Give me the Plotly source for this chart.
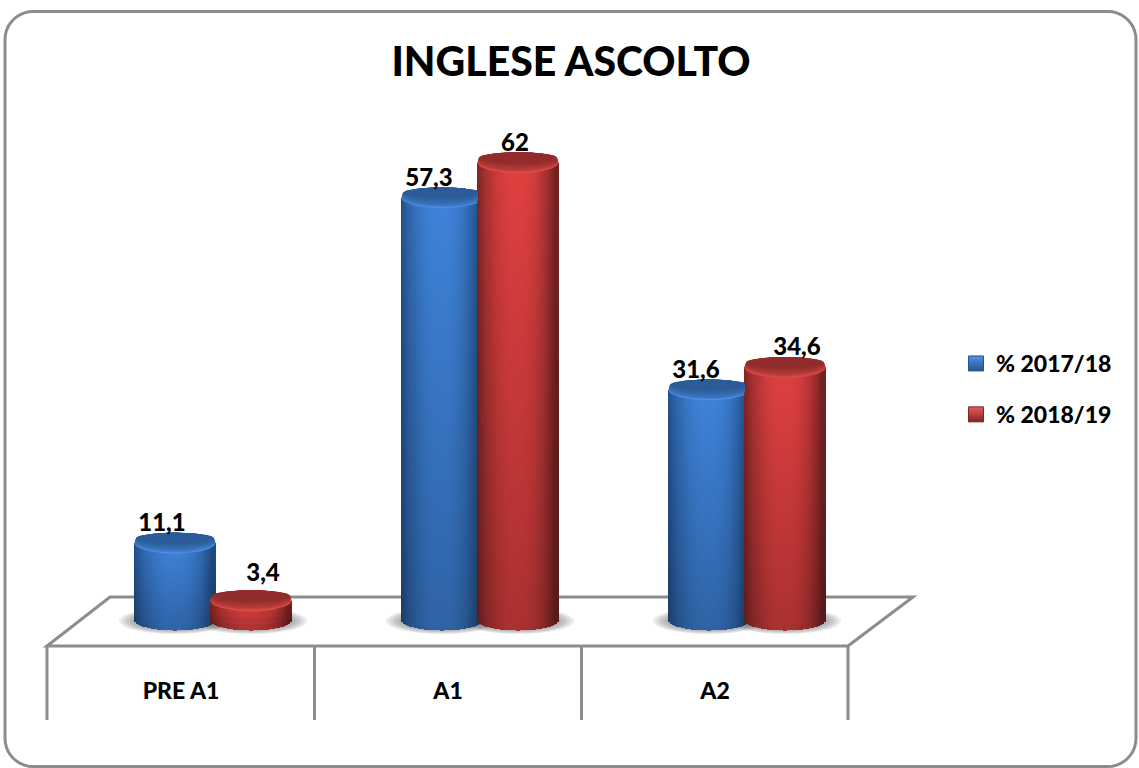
import math
import plotly.graph_objects as go

# ---- data ----
categories = ["PRE A1", "A1", "A2"]
series_names = ["% 2017/18", "% 2018/19"]
values_1718 = [11.1, 57.3, 31.6]
values_1819 = [3.4, 62, 34.6]
title_text = "INGLESE ASCOLTO"

# ---- layout constants ----
W, H = 1139, 768
FONT = "Lato"
WEIGHT = 900
PLOT_BOTTOM = 646
PX_PER_UNIT = 7.475
ZERO_PX = 626
CAT_X0, CAT_STEP = 181, 267
RX, RY = 40.5, 10.5
FLOOR_CY = 620
LINE = "#8c8c8c"

x_range = [(0 - CAT_X0) / CAT_STEP, (W - CAT_X0) / CAT_STEP]
y_range = [(ZERO_PX - PLOT_BOTTOM) / PX_PER_UNIT, ZERO_PX / PX_PER_UNIT]


def dx(px):
    return px / CAT_STEP


def vy(py):
    return (ZERO_PX - py) / PX_PER_UNIT


def mix(a, b, f):
    return tuple(a[i] + (b[i] - a[i]) * f for i in range(3))


def hexc(c):
    return "#%02x%02x%02x" % tuple(int(max(0, min(255, round(v)))) for v in c)


STYLE = [
    dict(offset=-6, bright=(62, 131, 218), edge=(32, 76, 132), rim=(74, 144, 228), cap=(43, 92, 152),
         label_dx=-13),
    dict(offset=70, bright=(224, 64, 64), edge=(116, 34, 34), rim=(224, 78, 72), cap=(146, 44, 44),
         label_dx=12),
]
LABEL_TWEAK = {(1, 1): (-15, 0), (1, 0): (0, -8)}

fig = go.Figure()

# legend entries
for name, top, bottom in [(series_names[0], "#4f93e0", "#24548f"), (series_names[1], "#ea5a5a", "#7d2424")]:
    fig.add_trace(go.Scatter(
        x=[None], y=[None], mode="markers", name=name, legendgroup=name,
        marker=dict(symbol="square", size=15, color=top,
                    gradient=dict(type="vertical", color=bottom),
                    line=dict(color=bottom, width=1)),
        hoverinfo="skip"))


def body(center, value, st):
    xs, ys, bases, cols = [], [], [], []
    n = 40
    strip = 2 * RX / n
    top_px = ZERO_PX - PX_PER_UNIT * value
    for j in range(n):
        px = -RX + strip * (j + 0.5)
        t = px / RX
        bottom_px = FLOOR_CY + RY * math.sqrt(1 - t * t)
        height = bottom_px - top_px
        segs = max(4, int(height / 5))
        shade = abs(t + 0.02) ** 2.4
        if t > 0:
            shade = min(1, shade * 1.15)
        for k in range(segs):
            p0 = bottom_px - height * k / segs
            p1 = bottom_px - height * (k + 1) / segs
            frac = (k + 0.5) / segs
            vert = 0.76 + 0.24 * frac
            c = mix(st["bright"], st["edge"], shade)
            c = tuple(v * vert for v in c)
            xs.append(center + dx(px))
            bases.append(vy(p0))
            ys.append(vy(p1) - vy(p0))
            cols.append(hexc(c))
    fig.add_trace(go.Bar(x=xs, y=ys, base=bases, width=(strip + 0.3) / CAT_STEP,
                         marker=dict(color=cols, line=dict(width=0)),
                         showlegend=False, hoverinfo="skip"))


def cap(center, value, st, clamp=None):
    cy = ZERO_PX - PX_PER_UNIT * value
    K = 10
    for k in range(K):
        f = k / (K - 1)
        ry = RY * (1 - 0.5 * f)
        rx = RX * (1 - 0.04 * f)
        c_y = cy - (RY - ry) * 0.95
        pts = [i * 2 * math.pi / 72 for i in range(73)]
        ex = [center + dx(rx * math.cos(a)) for a in pts]
        if clamp is not None:
            ex = [min(x, clamp) for x in ex]
        ey = [vy(c_y + ry * math.sin(a)) for a in pts]
        col = hexc(mix(st["rim"], st["cap"], min(1, f ** 0.5)))
        fig.add_trace(go.Scatter(x=ex, y=ey, mode="lines", fill="toself", fillcolor=col,
                                 line=dict(width=0), showlegend=False, hoverinfo="skip"))


shadow_shapes = []
series = [values_1718, values_1819]
# draw order: blue first, red over it
for s, vals in enumerate(series):
    st = STYLE[s]
    for i, v in enumerate(vals):
        body(i + dx(st["offset"]), v, st)
        for q in range(6):
            rx = 56 - q * 3.4
            ry = 13 - q * 0.9
            shadow_shapes.append(dict(
                type="circle", xref="x", yref="y", layer="below",
                x0=i + dx(st["offset"] - rx), x1=i + dx(st["offset"] + rx),
                y0=vy(621 + ry), y1=vy(621 - ry),
                line=dict(width=0), fillcolor="rgba(70,70,70,0.11)"))
for s, vals in enumerate(series):
    st = STYLE[s]
    for i, v in enumerate(vals):
        clamp = None
        if s == 0 and values_1819[i] > v:
            clamp = i + dx(STYLE[1]["offset"] - RX)
        cap(i + dx(st["offset"]), v, st, clamp)

# data labels
lx, ly, lt = [], [], []
for s, vals in enumerate(series):
    st = STYLE[s]
    for i, v in enumerate(vals):
        tw = LABEL_TWEAK.get((s, i), (0, 0))
        lx.append(i + dx(st["offset"] + st["label_dx"] + tw[0]))
        ly.append(v + 18 / PX_PER_UNIT - tw[1] / PX_PER_UNIT)
        lt.append(str(v).replace(".", ","))
fig.add_trace(go.Scatter(x=lx, y=ly, text=lt, mode="text", textposition="middle center",
                         textfont=dict(family=FONT, size=24, color="black", weight=WEIGHT),
                         showlegend=False, hoverinfo="skip"))


# ---- static decoration in pixel space ----
def P(x, y):
    return x / W, (PLOT_BOTTOM - y) / PLOT_BOTTOM


def path(points, close=False):
    out = []
    for n, (x, y) in enumerate(points):
        px, py = P(x, y)
        out.append(("M" if n == 0 else "L") + f"{px:.5f},{py:.5f}")
    return " ".join(out) + (" Z" if close else "")


line = dict(color=LINE, width=3)
shapes = list(shadow_shapes)
shapes.append(dict(type="path", xref="paper", yref="paper", layer="below", line=line,
                   path=path([(47, 646), (110, 597), (913, 597), (848, 646)], True)))
for xp in (47, 314.5, 581.5, 848):
    shapes.append(dict(type="path", xref="paper", yref="paper", layer="below", line=line,
                       path=path([(xp, 646), (xp, 720)])))
# rounded frame
L, T, R, B, r = 5, 11.5, 1136, 766.5, 28
arcs = []
steps = 10
for (cx, cy, a0) in [(R - r, T + r, -90), (R - r, B - r, 0), (L + r, B - r, 90), (L + r, T + r, 180)]:
    for q in range(steps + 1):
        a = math.radians(a0 + 90 * q / steps)
        arcs.append((cx + r * math.cos(a), cy + r * math.sin(a)))
shapes.append(dict(type="path", xref="paper", yref="paper", layer="below", line=line,
                   path=path(arcs, True)))

fig.update_layout(
    width=W, height=H, autosize=False,
    margin=dict(l=0, r=0, t=0, b=H - PLOT_BOTTOM, pad=0),
    paper_bgcolor="white", plot_bgcolor="white",
    barmode="overlay", bargap=0,
    font=dict(family=FONT, color="black"),
    title=dict(text=title_text, x=571 / W, xanchor="center", xref="paper",
               y=1 - 62 / H, yanchor="middle", yref="container",
               font=dict(family=FONT, size=41, color="black", weight=WEIGHT)),
    xaxis=dict(range=x_range, tickmode="array", tickvals=list(range(len(categories))), ticktext=categories,
               showgrid=False, zeroline=False, showline=False, ticks="", ticklabelstandoff=29,
               tickfont=dict(family=FONT, size=23, color="black", weight=WEIGHT), fixedrange=True),
    yaxis=dict(range=y_range, visible=False, fixedrange=True),
    legend=dict(x=956 / W, xanchor="left", y=(PLOT_BOTTOM - 389) / PLOT_BOTTOM, yanchor="middle",
                font=dict(family=FONT, size=23, color="black", weight=WEIGHT),
                tracegroupgap=18, bgcolor="rgba(0,0,0,0)", traceorder="grouped"),
    shapes=shapes,
)

fig.write_html("out.html", config=dict(displayModeBar=False),
               post_script="document.body.style.margin='0';")
